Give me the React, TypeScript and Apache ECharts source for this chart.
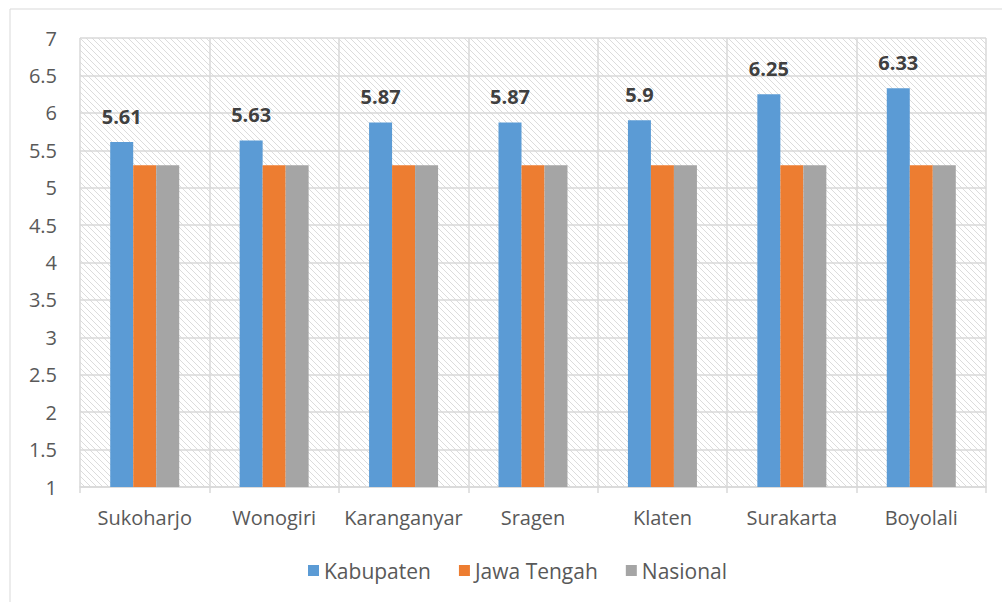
import React, { useEffect, useRef } from "react";
import * as echarts from "echarts";

const categories = ["Sukoharjo", "Wonogiri", "Karanganyar", "Sragen", "Klaten", "Surakarta", "Boyolali"];
const kabupaten = [5.61, 5.63, 5.87, 5.87, 5.9, 6.25, 6.33];
const jawaTengah = [5.3, 5.3, 5.3, 5.3, 5.3, 5.3, 5.3];
const nasional = [5.3, 5.3, 5.3, 5.3, 5.3, 5.3, 5.3];
const seriesNames = ["Kabupaten", "Jawa Tengah", "Nasional"];

function makeHatch(): string {
  const c = document.createElement("canvas");
  const s = 6;
  c.width = s;
  c.height = s;
  const ctx = c.getContext("2d")!;
  ctx.fillStyle = "#ffffff";
  ctx.fillRect(0, 0, s, s);
  ctx.fillStyle = "#dcdcdc";
  for (let i = 0; i < s; i++) ctx.fillRect(i, i, 1, 1);
  return c.toDataURL();
}

export default function App() {
  const ref = useRef<HTMLDivElement>(null);
  useEffect(() => {
    if (!ref.current) return;
    const chart = echarts.init(ref.current, undefined, { renderer: "svg" });
    const font = "'Open Sans', 'Noto Sans', sans-serif";
    const hatch = makeHatch();
    chart.setOption({
      animation: false,
      backgroundColor: "#ffffff",
      textStyle: { fontFamily: font },
      color: ["#5b9bd5", "#ed7d31", "#a5a5a5"],
      graphic: [
        {
          type: "rect",
          shape: { x: 10, y: 9, width: 1000, height: 600 },
          style: { fill: "none", stroke: "#d9d9d9", lineWidth: 1 },
          silent: true,
        },
      ],
      grid: {
        left: 80,
        right: 16,
        top: 38,
        bottom: 115,
        show: true,
        borderWidth: 0,
        backgroundColor: { image: hatch, repeat: "repeat" } as any,
      },
      legend: {
        data: seriesNames,
        left: 303,
        top: 555,
        icon: "rect",
        itemWidth: 11,
        itemHeight: 11,
        itemGap: 28,
        itemStyle: { borderWidth: 0 },
        textStyle: { fontSize: 21, color: "#595959", fontFamily: font },
      },
      xAxis: {
        type: "category",
        data: categories,
        axisLine: { show: true, lineStyle: { color: "#d9d9d9", width: 1.5 } },
        axisTick: { show: true, interval: 0, length: 6, lineStyle: { color: "#d9d9d9", width: 1.5 } },
        splitLine: { show: true, interval: 0, lineStyle: { color: "#d9d9d9", width: 1.5 } },
        axisLabel: { interval: 0, fontSize: 20, color: "#595959", margin: 20, fontFamily: font },
      },
      yAxis: {
        type: "value",
        min: 1,
        max: 7,
        interval: 0.5,
        axisLine: { show: false },
        axisTick: { show: false },
        splitLine: { show: true, lineStyle: { color: "#d9d9d9", width: 1.5 } },
        axisLabel: { fontSize: 20, color: "#595959", margin: 23, fontFamily: font },
      },
      series: [
        {
          name: seriesNames[0],
          type: "bar",
          data: kabupaten,
          barWidth: 23,
          barGap: "0%",
          label: {
            show: true,
            position: "top",
            distance: 16,
            fontSize: 20,
            fontWeight: "bold",
            color: "#404040",
            fontFamily: font,
          },
        },
        { name: seriesNames[1], type: "bar", data: jawaTengah, barWidth: 23, barGap: "0%" },
        { name: seriesNames[2], type: "bar", data: nasional, barWidth: 23, barGap: "0%" },
      ],
    });
    return () => chart.dispose();
  }, []);
  return <div ref={ref} style={{ position: "absolute", left: 0, top: 0, width: 1002, height: 602 }} />;
}
